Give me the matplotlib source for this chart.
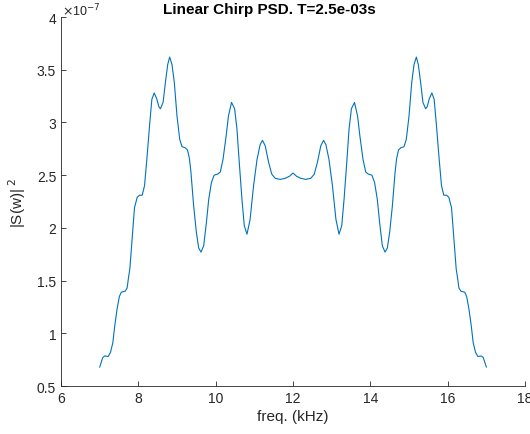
import matplotlib
matplotlib.use("Agg")
import matplotlib.pyplot as plt

plt.rcParams['font.family'] = ['Liberation Sans', 'DejaVu Sans']

freq_khz = [
    7.00, 7.08, 7.13, 7.22, 7.28, 7.34, 7.39, 7.45, 7.51, 7.56, 7.61, 7.66, 7.71, 7.75, 7.78,
    7.84, 7.90, 7.97, 8.03, 8.10, 8.16, 8.22, 8.29, 8.35, 8.41, 8.48, 8.53, 8.57, 8.64, 8.70,
    8.76, 8.81, 8.87, 8.93, 9.00, 9.07, 9.13, 9.21, 9.27, 9.32, 9.36, 9.43, 9.50, 9.56, 9.62,
    9.69, 9.76, 9.82, 9.89, 9.96, 10.05, 10.12, 10.19, 10.27, 10.33, 10.41, 10.49, 10.55, 10.61,
    10.68, 10.74, 10.81, 10.89, 10.98, 11.07, 11.15, 11.21, 11.28, 11.37, 11.45, 11.54, 11.67,
    11.80, 11.91, 12.00,
    12.09, 12.20, 12.33, 12.46, 12.55, 12.63, 12.72, 12.79, 12.85, 12.93, 13.02, 13.11, 13.19,
    13.26, 13.32, 13.39, 13.45, 13.51, 13.59, 13.67, 13.73, 13.81, 13.88, 13.95, 14.04, 14.11,
    14.18, 14.24, 14.31, 14.38, 14.44, 14.50, 14.57, 14.64, 14.68, 14.73, 14.79, 14.87, 14.93,
    15.00, 15.07, 15.13, 15.19, 15.24, 15.30, 15.36, 15.43, 15.47, 15.52, 15.59, 15.65, 15.71,
    15.78, 15.84, 15.90, 15.97, 16.03, 16.10, 16.16, 16.22, 16.25, 16.29, 16.34, 16.39, 16.44,
    16.49, 16.55, 16.61, 16.66, 16.72, 16.78, 16.87, 16.92, 17.00,
]
psd_e7 = [
    0.68, 0.77, 0.785, 0.78, 0.82, 0.91, 1.07, 1.23, 1.35, 1.39, 1.395, 1.40, 1.43, 1.54, 1.61,
    1.90, 2.19, 2.29, 2.31, 2.31, 2.40, 2.65, 2.97, 3.22, 3.28, 3.22, 3.15, 3.13, 3.19, 3.38,
    3.55, 3.62, 3.55, 3.38, 3.06, 2.84, 2.77, 2.76, 2.74, 2.66, 2.53, 2.21, 1.96, 1.81, 1.77,
    1.83, 2.05, 2.27, 2.43, 2.50, 2.51, 2.53, 2.65, 2.87, 3.06, 3.19, 3.13, 2.94, 2.62,
    2.27, 2.02, 1.94, 2.08, 2.40, 2.65, 2.79, 2.83, 2.78, 2.62, 2.51, 2.47, 2.46,
    2.47, 2.49, 2.52,
    2.49, 2.47, 2.46, 2.47, 2.51, 2.62, 2.78, 2.83, 2.79, 2.65, 2.40, 2.08, 1.94,
    2.02, 2.27, 2.62, 2.94, 3.13, 3.19, 3.06, 2.87, 2.65, 2.53, 2.51, 2.50, 2.43,
    2.27, 2.05, 1.83, 1.77, 1.81, 1.96, 2.21, 2.53, 2.66, 2.74, 2.76, 2.77, 2.84,
    3.06, 3.38, 3.55, 3.62, 3.55, 3.38, 3.19, 3.13, 3.15, 3.22, 3.28, 3.22, 2.97,
    2.65, 2.40, 2.31, 2.31, 2.29, 2.19, 1.90, 1.61, 1.54, 1.43, 1.40, 1.395, 1.39,
    1.35, 1.23, 1.07, 0.91, 0.82, 0.78, 0.785, 0.77, 0.68,
]
xticks = [6, 8, 10, 12, 14, 16, 18]
yticks = [0.5, 1, 1.5, 2, 2.5, 3, 3.5, 4]
ytick_labels = ['0.5', '1', '1.5', '2', '2.5', '3', '3.5', '4']

fig = plt.figure(figsize=(5.30, 4.35), dpi=100)
ax = fig.add_axes([0.1151, 0.1103, 0.8755, 0.8483])
ax.plot(freq_khz, psd_e7, color='#0072BD', linewidth=0.8)

ax.set_xlim(6, 18)
ax.set_ylim(0.5, 4)
ax.set_xticks(xticks)
ax.set_xticklabels([str(t) for t in xticks])
ax.set_yticks(yticks)
ax.set_yticklabels(ytick_labels)

for s in ['top', 'right']:
    ax.spines[s].set_visible(False)
for s in ['left', 'bottom']:
    ax.spines[s].set_color('#262626')
    ax.spines[s].set_linewidth(0.6)
ax.tick_params(direction='in', length=3.5, width=0.6, colors='#262626',
               labelsize=10, top=False, right=False)

ax.text(0.448, 1.0 + 4.0 / 369, 'Linear Chirp PSD. T=2.5e-03s', transform=ax.transAxes,
        fontsize=11, fontweight='bold', color='black', ha='center', va='baseline')
ax.set_xlabel('freq. (kHz)', fontsize=11, color='#262626', labelpad=3)
ax.set_ylabel(r'|S(w)|$^{\ 2}$', fontsize=11, color='#262626', labelpad=6)
ax.text(0.002, 1.0 + 1.5 / 369, r'$\times$10$^{-7}$', transform=ax.transAxes, fontsize=9,
        color='#262626', ha='left', va='baseline')

fig.savefig('out.png', dpi=100)
